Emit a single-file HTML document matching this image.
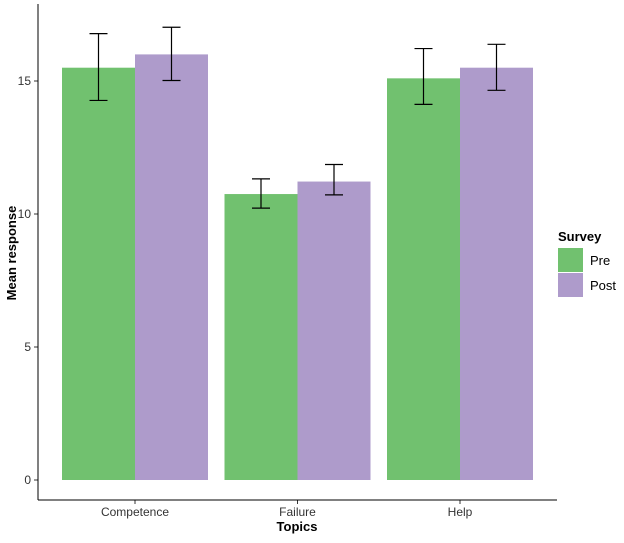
<!DOCTYPE html>
<html><head><meta charset="utf-8"><style>
body{margin:0;background:#fff;}
text{font-family:"Liberation Sans",Arial,sans-serif;}
</style></head><body>
<svg id="chart" width="624" height="538" viewBox="0 0 624 538">
<g id="plot"></g>
<line x1="38" y1="4" x2="38" y2="500" stroke="#000" stroke-width="1"/>
<line x1="38" y1="500" x2="557" y2="500" stroke="#000" stroke-width="1"/>
<text x="297" y="531" font-size="13" font-weight="bold" text-anchor="middle">Topics</text>
<text transform="translate(16,253) rotate(-90)" font-size="13" font-weight="bold" text-anchor="middle">Mean response</text>
<g>
<text x="558" y="241" font-size="13" font-weight="bold">Survey</text>
<rect x="558" y="248" width="25" height="24" fill="#71c16f"/>
<text x="590" y="265" font-size="13">Pre</text>
<rect x="558" y="273" width="25" height="24" fill="#ae9bcb"/>
<text x="590" y="290" font-size="13">Post</text>
</g>
</svg>
<script>
const categories=["Competence","Failure","Help"];
const preValues=[15.5,10.75,15.1];
const postValues=[16.0,11.22,15.5];
const preLow=[14.27,10.22,14.12];
const preHigh=[16.78,11.32,16.22];
const postLow=[15.02,10.72,14.65];
const postHigh=[17.02,11.86,16.38];
const yTicks=[0,5,10,15];

const NS="http://www.w3.org/2000/svg";
const g=document.getElementById('plot');
function y(v){return 480-v*26.6;}
function xc(i){return 135+i*162.5;}
function mk(tag,attrs){const e=document.createElementNS(NS,tag);for(const k in attrs)e.setAttribute(k,attrs[k]);g.appendChild(e);return e;}
yTicks.forEach(t=>{
  const l=mk('line',{x1:34,x2:38,y1:y(t),y2:y(t),stroke:'#333'});
  
  
  const tx=mk('text',{x:31,y:y(t)+4,'font-size':12,'text-anchor':'end',fill:'#333'});
  tx.textContent=t;
  
  
});
categories.forEach((c,i)=>{
  const cx=xc(i);
  const series=[[preValues,preLow,preHigh,'#71c16f',-73,'pre'],[postValues,postLow,postHigh,'#ae9bcb',0,'post']];
  series.forEach(s=>{
    const v=s[0][i];
    const r=mk('rect',{x:cx+s[4],y:y(v),width:73,height:y(0)-y(v),fill:s[3]});
    
    
  });
  series.forEach(s=>{
    const m=cx+s[4]+36.5, lo=y(s[1][i]), hi=y(s[2][i]);
    const e=mk('path',{d:`M${m-9},${hi}H${m+9}M${m},${hi}V${lo}M${m-9},${lo}H${m+9}`,stroke:'#000','stroke-width':1.2,fill:'none'});
    
    
  });
  const t=mk('line',{x1:cx,x2:cx,y1:500,y2:504,stroke:'#333'});
  
  
  const tx=mk('text',{x:cx,y:516,'font-size':12,'text-anchor':'middle',fill:'#333'});
  tx.textContent=c;
  
  
});
</script>
</body></html>
